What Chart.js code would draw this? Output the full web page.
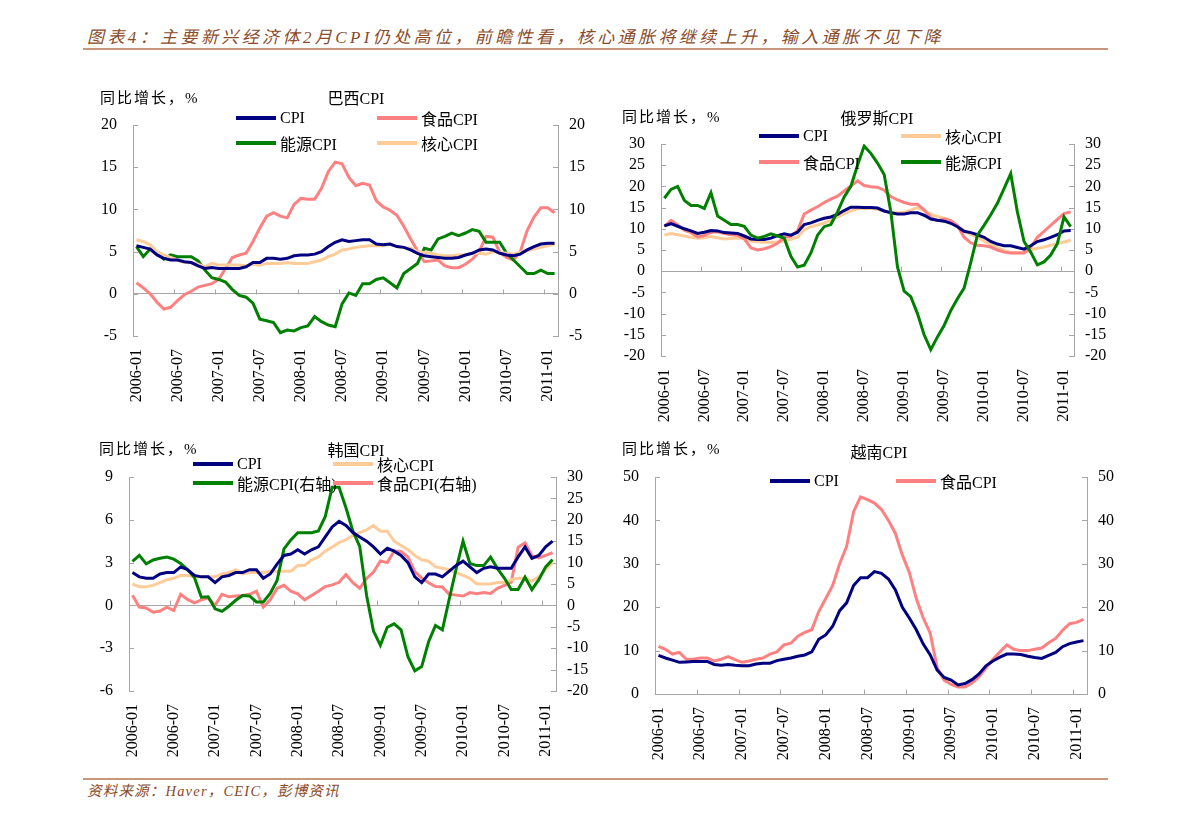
<!DOCTYPE html>
<html>
<head>
<meta charset="utf-8">
<script src="https://cdn.jsdelivr.net/npm/chart.js@4.4.1/dist/chart.umd.min.js"></script>
<style>
  body { margin: 0; background: #fff; width: 1191px; height: 818px; position: relative; overflow: hidden;
         font-family: "Liberation Serif", "Noto Sans CJK SC", serif; color: #000; }
  .abs { position: absolute; white-space: nowrap; }
  .head { left: 87px; top: 35px; transform: translateY(-50%); font-size: 17px; font-style: italic; color: #8a4b2a; letter-spacing: 3.4px; }
  .src { left: 87px; top: 789px; transform: translateY(-50%); font-size: 14.5px; font-style: italic; color: #8a4b2a; letter-spacing: 1.2px; }
  .rule { position: absolute; left: 83px; width: 1025px; height: 2px; background: #c8977b; }
  .unit { font-size: 15px; letter-spacing: 2px; transform: translateY(-50%); }
  .ttl { font-size: 16px; transform: translate(-50%, -50%); }
  .leg { font-size: 16px; display: flex; align-items: center; transform: translateY(-50%); }
  .leg i { display: inline-block; width: 40px; height: 3.5px; margin-right: 4px; }
  canvas { position: absolute; }
</style>
</head>
<body>
<div class="abs head">图表4：主要新兴经济体2月CPI仍处高位，前瞻性看，核心通胀将继续上升，输入通胀不见下降</div>
<div class="rule" style="top:48px"></div>
<div class="rule" style="top:778px"></div>
<div class="abs src">资料来源：Haver，CEIC，彭博资讯</div>

<canvas id="brazil"></canvas>
<canvas id="russia"></canvas>
<canvas id="korea"></canvas>
<canvas id="vietnam"></canvas>

<script>
const months = [
  '2006-01','2006-02','2006-03','2006-04','2006-05','2006-06','2006-07','2006-08','2006-09','2006-10','2006-11','2006-12',
  '2007-01','2007-02','2007-03','2007-04','2007-05','2007-06','2007-07','2007-08','2007-09','2007-10','2007-11','2007-12',
  '2008-01','2008-02','2008-03','2008-04','2008-05','2008-06','2008-07','2008-08','2008-09','2008-10','2008-11','2008-12',
  '2009-01','2009-02','2009-03','2009-04','2009-05','2009-06','2009-07','2009-08','2009-09','2009-10','2009-11','2009-12',
  '2010-01','2010-02','2010-03','2010-04','2010-05','2010-06','2010-07','2010-08','2010-09','2010-10','2010-11','2010-12',
  '2011-01','2011-02'
];

// Brazil
const brazilCpi = [5.7,5.5,5.3,4.6,4.2,4.0,4.0,3.8,3.7,3.3,3.0,3.1,
  3.0,3.0,3.0,3.0,3.2,3.7,3.7,4.2,4.2,4.1,4.2,4.5,
  4.6,4.6,4.7,5.0,5.6,6.1,6.4,6.2,6.3,6.4,6.4,5.9,
  5.8,5.9,5.6,5.5,5.2,4.8,4.5,4.4,4.3,4.2,4.2,4.3,
  4.6,4.8,5.2,5.3,5.2,4.8,4.6,4.5,4.7,5.2,5.6,5.9,
  6.0,6.0];
const brazilFood = [1.3,0.7,0.0,-1.0,-1.8,-1.6,-0.8,-0.1,0.3,0.8,1.0,1.2,
  1.7,3.0,4.3,4.6,4.8,6.2,7.8,9.2,9.6,9.2,9.0,10.6,
  11.3,11.2,11.2,12.5,14.5,15.6,15.4,13.8,12.8,13.1,12.9,11.0,
  10.3,9.9,9.3,8.0,6.5,5.1,3.8,3.9,4.0,3.3,3.1,3.1,
  3.5,4.1,5.0,6.8,6.7,4.9,4.3,4.0,5.0,7.5,9.1,10.2,
  10.2,9.6];
const brazilEnergy = [5.6,4.4,5.3,4.8,4.1,4.6,4.4,4.4,4.4,3.9,2.8,1.9,
  1.7,1.4,0.5,-0.2,-0.4,-1.1,-3.0,-3.2,-3.4,-4.6,-4.3,-4.4,
  -4.0,-3.8,-2.7,-3.3,-3.7,-3.9,-1.2,0.1,-0.2,1.2,1.2,1.7,
  1.9,1.3,0.7,2.4,3.0,3.6,5.4,5.2,6.5,6.8,7.2,6.9,
  7.2,7.6,7.4,6.1,6.1,6.1,4.8,4.0,3.2,2.4,2.4,2.8,
  2.4,2.4];
const brazilCore = [6.4,6.2,5.8,5.0,4.6,4.3,4.0,3.7,3.7,3.5,3.2,3.6,
  3.4,3.4,3.4,3.4,3.3,3.5,3.4,3.6,3.6,3.6,3.7,3.6,
  3.6,3.6,3.8,4.0,4.4,4.7,5.2,5.3,5.5,5.6,5.7,5.7,
  5.7,5.9,5.6,5.5,5.4,5.0,4.9,4.8,4.6,4.5,4.5,4.6,
  4.6,4.8,4.8,4.7,5.0,4.9,4.8,4.7,4.9,5.1,5.3,5.5,
  5.7,5.9];
const brazilTicks = [-5, 0, 5, 10, 15, 20];

// Russia
const russiaCpi = [10.7,11.2,10.6,10.0,9.5,8.9,9.2,9.6,9.5,9.1,9.0,8.9,
  8.3,7.6,7.5,7.5,7.8,8.4,8.8,8.5,9.2,11.0,11.4,12.0,
  12.5,12.8,13.4,14.3,15.1,15.1,15.0,15.0,14.9,14.2,13.8,13.5,
  13.5,13.8,13.8,13.2,12.3,12.0,11.8,11.3,10.5,9.4,9.1,8.6,
  8.0,7.0,6.4,6.0,6.0,5.6,5.2,6.0,7.0,7.4,8.0,8.6,
  9.5,9.6];
const russiaCore = [8.5,8.9,8.6,8.3,8.0,7.8,7.9,8.2,7.9,7.6,7.7,7.8,
  7.7,7.1,6.9,6.8,6.8,6.9,7.2,7.5,8.0,9.8,10.5,10.9,
  11.4,12.0,12.8,13.5,14.2,14.7,14.8,14.8,14.6,14.2,13.9,13.8,
  13.9,14.4,15.0,14.3,13.4,12.9,12.5,11.8,10.7,9.6,8.7,8.0,
  7.1,6.3,5.5,4.9,4.4,4.3,4.4,5.0,5.4,5.7,6.1,6.5,
  6.9,7.3];
const russiaFood = [10.6,12.0,10.9,9.7,9.1,8.1,8.4,9.2,9.3,8.9,8.6,8.5,
  7.6,5.5,5.0,5.3,5.8,6.6,8.0,8.2,9.5,13.5,14.4,15.2,
  16.2,17.0,17.7,18.9,20.1,21.3,20.2,19.9,19.8,19.1,17.6,16.8,
  16.2,15.8,15.8,14.5,12.6,11.9,12.3,11.9,10.8,8.0,6.7,6.1,
  6.0,5.7,5.0,4.5,4.3,4.3,4.3,5.6,8.0,9.4,10.8,12.2,
  13.6,14.0];
const russiaEnergy = [17.2,19.3,20.0,16.7,15.5,15.5,14.8,18.5,13.0,12.0,11.0,11.0,
  10.6,8.5,7.8,8.2,8.8,8.3,7.8,3.5,1.0,1.4,4.3,8.5,
  10.5,11.0,14.0,17.5,20.0,25.0,29.5,27.8,25.5,22.8,14.0,1.0,
  -4.7,-6.0,-10.0,-15.0,-18.5,-15.5,-12.8,-9.3,-6.5,-4.0,2.0,8.5,
  10.8,13.3,16.0,19.5,23.0,14.0,7.0,4.5,1.5,2.2,3.8,6.5,
  12.8,10.5];
const russiaTicks = [-20, -15, -10, -5, 0, 5, 10, 15, 20, 25, 30];

// Korea
const koreaCpi = [2.3,2.0,1.9,1.9,2.2,2.3,2.3,2.7,2.5,2.1,2.0,2.0,
  1.6,2.0,2.1,2.3,2.3,2.5,2.5,1.9,2.2,2.9,3.5,3.6,
  3.9,3.6,3.9,4.1,4.8,5.5,5.9,5.6,5.1,4.8,4.5,4.1,
  3.6,4.0,3.8,3.5,3.0,2.0,1.6,2.2,2.2,2.0,2.4,2.8,
  3.1,2.7,2.3,2.6,2.7,2.6,2.6,2.6,3.4,4.1,3.3,3.5,
  4.1,4.5];
const koreaCore = [1.5,1.3,1.3,1.4,1.6,1.8,1.9,2.1,2.1,2.0,2.0,2.0,
  2.0,2.2,2.3,2.5,2.2,2.3,2.3,2.3,2.4,2.4,2.4,2.4,
  2.8,2.8,3.2,3.4,3.8,4.1,4.4,4.6,4.9,5.1,5.3,5.6,
  5.2,5.2,4.5,4.2,3.9,3.5,3.2,3.1,2.7,2.6,2.5,2.3,
  2.1,1.9,1.5,1.5,1.5,1.6,1.6,1.8,1.9,1.9,1.7,2.0,
  2.5,3.0];
const koreaEnergy = [10.3,11.7,9.7,10.6,11.0,11.3,10.8,9.8,8.4,6.5,1.9,2.0,
  -0.8,-1.4,-0.2,1.2,2.3,2.2,0.8,0.8,2.8,5.8,13.2,15.3,
  17.0,17.0,17.0,17.4,20.8,27.6,27.6,22.8,17.4,13.8,2.3,-6.0,
  -9.3,-5.1,-4.3,-5.7,-12.0,-15.3,-14.3,-8.5,-4.7,-5.7,1.5,8.5,
  15.0,9.8,9.3,9.3,11.3,8.6,6.4,3.7,3.7,6.6,3.7,6.0,
  9.0,10.7];
const koreaFood = [2.4,-0.4,-0.6,-1.6,-1.3,-0.4,-1.2,2.6,1.4,0.6,1.3,1.7,
  0.0,2.6,2.0,2.2,2.3,2.6,3.3,-0.4,1.3,4.0,4.7,3.3,
  2.7,1.3,2.3,3.3,4.4,4.8,5.4,7.2,5.3,4.0,6.3,7.8,
  10.4,10.0,12.7,12.6,11.3,7.9,6.4,5.3,4.4,4.3,2.6,2.4,
  2.2,3.0,2.7,3.0,2.8,4.0,4.7,5.4,13.6,14.6,11.6,11.1,
  11.7,12.3];
const koreaLeftTicks = [-6, -3, 0, 3, 6, 9];
const koreaRightTicks = [-20, -15, -10, -5, 0, 5, 10, 15, 20, 25, 30];

// Vietnam
const vietnamCpi = [8.9,8.3,7.8,7.3,7.4,7.5,7.5,7.5,6.8,6.6,6.8,6.6,
  6.5,6.5,6.9,7.1,7.1,7.7,8.0,8.3,8.7,9.0,9.7,12.6,
  13.6,15.6,19.2,21.0,25.0,26.8,26.8,28.2,27.8,26.5,24.0,20.0,
  17.5,14.8,11.5,9.0,5.5,3.8,3.2,2.1,2.4,3.3,4.6,6.5,
  7.6,8.5,9.2,9.2,9.1,8.7,8.4,8.2,8.9,9.6,10.9,11.6,
  12.0,12.3];
const vietnamFood = [11.0,10.3,9.2,9.6,8.0,8.0,8.3,8.3,7.6,8.0,8.6,7.9,
  7.3,7.6,8.0,8.3,9.2,9.7,11.3,11.7,13.3,14.2,14.8,19.0,
  22.0,25.0,30.0,34.0,42.0,45.4,44.8,44.0,42.5,40.0,37.0,32.0,
  28.0,22.0,17.5,14.0,6.0,3.2,2.2,1.6,1.6,2.5,4.0,6.0,
  8.0,9.7,11.3,10.3,10.0,10.0,10.3,10.6,11.8,12.8,14.7,16.2,
  16.5,17.2];
const vietnamTicks = [0, 10, 20, 30, 40, 50];

const navy = '#000080', pink = '#ff8080', green = '#008000', tan = '#ffcc99';
const axisColor = '#a6a6a6';
const fontStack = '"Liberation Serif", "Noto Sans CJK SC", serif';

// Excel-style marks: x ticks on the zero line, y ticks pointing inward
const tickMarks = {
  id: 'tickMarks',
  beforeDatasetsDraw(chart) {
    const { ctx, chartArea: a, scales } = chart;
    const x = scales.x, y = scales.y, y2 = scales.y2;
    const zero = Math.round(y.getPixelForValue(0)) + 0.5;
    const half = (x.getPixelForValue(1) - x.getPixelForValue(0)) / 2;
    ctx.save();
    ctx.strokeStyle = axisColor;
    ctx.lineWidth = 1;
    ctx.beginPath();
    for (let k = 6; k < months.length; k += 6) {
      const px = Math.round(x.getPixelForValue(k) - half) + 0.5;
      ctx.moveTo(px, zero);
      ctx.lineTo(px, zero - 5);
    }
    y.ticks.forEach(t => {
      const py = Math.round(y.getPixelForValue(t.value)) + 0.5;
      ctx.moveTo(a.left, py);
      ctx.lineTo(a.left + 5, py);
    });
    y2.ticks.forEach(t => {
      const py = Math.round(y2.getPixelForValue(t.value)) + 0.5;
      ctx.moveTo(a.right, py);
      ctx.lineTo(a.right - 5, py);
    });
    ctx.stroke();
    ctx.restore();
  }
};

function yAxis(pos, ticks, withZero) {
  return {
    position: pos,
    min: ticks[0],
    max: ticks[ticks.length - 1],
    afterBuildTicks: s => { s.ticks = ticks.map(v => ({ value: v })); },
    afterFit: s => { s.width = pos === 'left' ? 70 : 50; },
    border: { display: true, color: axisColor, width: 1 },
    grid: {
      display: withZero, drawTicks: false,
      color: c => (c.tick && c.tick.value === 0) ? axisColor : 'rgba(0,0,0,0)'
    },
    ticks: { autoSkip: false, padding: pos === 'left' ? 16 : 11, color: '#000', font: { family: fontStack, size: 16 } }
  };
}

function line(label, data, color, axis) {
  return { label, data, borderColor: color, backgroundColor: color, borderWidth: 3,
           pointRadius: 0, tension: 0, fill: false, yAxisID: axis || 'y' };
}

function panel(id, area, leftTicks, rightTicks, datasets) {
  const cv = document.getElementById(id);
  // top room must exceed what the y scales ask for (half a label + tick padding)
  const padL = 70, padR = 50, padT = 28, padB = 80;
  const w = area.r - area.l + padL + padR, h = area.b - area.t + padT + padB;
  cv.width = w; cv.height = h;
  cv.style.width = w + 'px'; cv.style.height = h + 'px';
  cv.style.left = (area.l - padL) + 'px';
  cv.style.top = (area.t - padT) + 'px';
  new Chart(cv, {
    type: 'line',
    data: { labels: months, datasets },
    options: {
      responsive: false,
      animation: false,
      devicePixelRatio: 1,
      layout: { padding: { top: padT, left: 0, right: 0, bottom: 0 } },
      plugins: { legend: { display: false }, tooltip: { enabled: false } },
      scales: {
        x: {
          type: 'category',
          offset: true,
          grid: { display: false, offset: true, drawTicks: false },
          border: { display: false },
          afterFit: s => { s.height = padB; },
          ticks: {
            autoSkip: false, minRotation: 90, maxRotation: 90, padding: 13,
            color: '#000', font: { family: fontStack, size: 16 },
            callback: (v, i) => i % 6 === 0 ? months[i] : ''
          }
        },
        y: yAxis('left', leftTicks, true),
        y2: yAxis('right', rightTicks, false)
      }
    },
    plugins: [tickMarks]
  });
}

function text(cls, x, y, str) {
  const d = document.createElement('div');
  d.className = 'abs ' + cls;
  d.style.left = x + 'px';
  d.style.top = y + 'px';
  d.textContent = str;
  document.body.appendChild(d);
}

function legendItem(x, y, color, str) {
  const d = document.createElement('div');
  d.className = 'abs leg';
  d.style.left = x + 'px';
  d.style.top = y + 'px';
  const mark = document.createElement('i');
  mark.style.background = color;
  const s = document.createElement('span');
  s.textContent = str;
  d.appendChild(mark);
  d.appendChild(s);
  document.body.appendChild(d);
}

// Brazil
panel('brazil', { l: 133, r: 558, t: 125, b: 336 }, brazilTicks, brazilTicks, [
  line('CPI', brazilCpi, navy),
  line('核心CPI', brazilCore, tan),
  line('能源CPI', brazilEnergy, green),
  line('食品CPI', brazilFood, pink)
]);
text('unit', 100, 96, '同比增长，%');
text('ttl', 356, 97, '巴西CPI');
legendItem(236, 118, navy, 'CPI');
legendItem(377, 118, pink, '食品CPI');
legendItem(236, 143, green, '能源CPI');
legendItem(377, 143, tan, '核心CPI');

// Russia
panel('russia', { l: 661, r: 1074, t: 144, b: 356 }, russiaTicks, russiaTicks, [
  line('能源CPI', russiaEnergy, green),
  line('CPI', russiaCpi, navy),
  line('食品CPI', russiaFood, pink),
  line('核心CPI', russiaCore, tan)
]);
text('unit', 622, 115, '同比增长，%');
text('ttl', 877, 117, '俄罗斯CPI');
legendItem(759, 136, navy, 'CPI');
legendItem(901, 136, tan, '核心CPI');
legendItem(759, 162, pink, '食品CPI');
legendItem(901, 162, green, '能源CPI');

// Korea
panel('korea', { l: 129, r: 556, t: 477, b: 691 }, koreaLeftTicks, koreaRightTicks, [
  line('CPI', koreaCpi, navy),
  line('能源CPI(右轴)', koreaEnergy, green, 'y2'),
  line('核心CPI', koreaCore, tan),
  line('食品CPI(右轴)', koreaFood, pink, 'y2')
]);
text('unit', 99, 447, '同比增长，%');
text('ttl', 356, 449, '韩国CPI');
legendItem(193, 464, navy, 'CPI');
legendItem(333, 464, tan, '核心CPI');
legendItem(193, 483, green, '能源CPI(右轴)');
legendItem(333, 483, pink, '食品CPI(右轴)');

// Vietnam
panel('vietnam', { l: 655, r: 1087, t: 477, b: 694 }, vietnamTicks, vietnamTicks, [
  line('CPI', vietnamCpi, navy),
  line('食品CPI', vietnamFood, pink)
]);
text('unit', 622, 447, '同比增长，%');
text('ttl', 879, 451, '越南CPI');
legendItem(770, 481, navy, 'CPI');
legendItem(896, 481, pink, '食品CPI');
</script>
</body>
</html>
